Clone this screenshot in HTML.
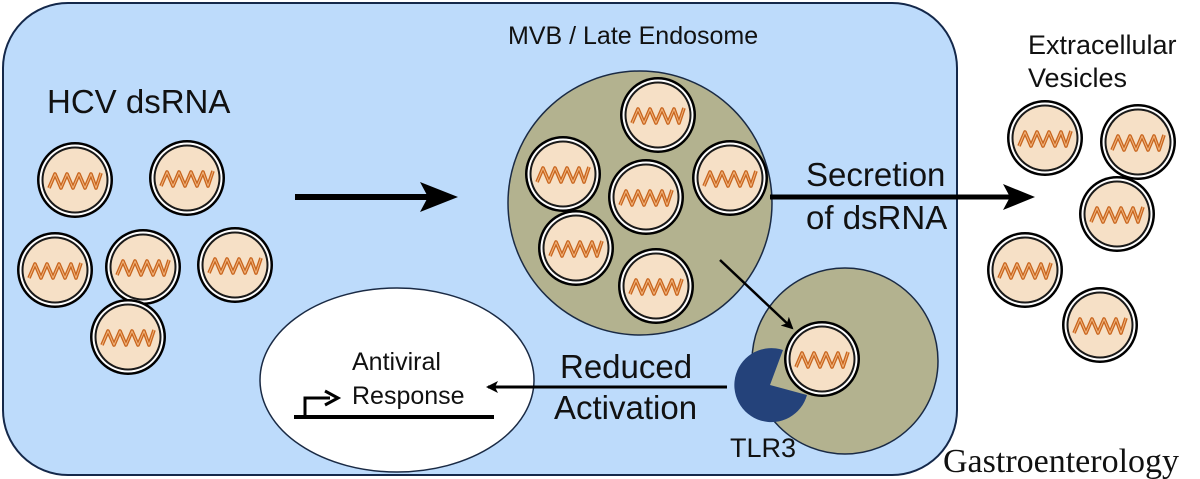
<!DOCTYPE html>
<html><head><meta charset="utf-8"><style>
html,body{margin:0;padding:0;background:#fff;}
svg{display:block;}
text{font-family:"Liberation Sans",Arial,sans-serif;fill:#111;}
</style></head><body>
<svg width="1200" height="479" viewBox="0 0 1200 479" xmlns="http://www.w3.org/2000/svg">
<defs>
<g id="v">
<circle r="38" fill="#000"/>
<circle r="35.5" fill="#fff"/>
<circle r="33.5" fill="#1a1a1a"/>
<circle r="31.5" fill="#f6e0c6"/>
<path d="M-26,8 L-20,-6 L-14,8 L-8,-6 L-2,8 L4,-6 L10,8 L16,-6 L21,8 L26,-7" fill="none" stroke="#c8651e" stroke-width="3.6" stroke-linejoin="round"/>
<path d="M-26,8 L-20,-6 L-14,8 L-8,-6 L-2,8 L4,-6 L10,8 L16,-6 L21,8 L26,-7" fill="none" stroke="#f2b47c" stroke-width="1" stroke-linejoin="round"/>
</g>
<marker id="ah" markerWidth="12" markerHeight="12" refX="10" refY="6" orient="auto" markerUnits="userSpaceOnUse"><path d="M0,0 L12,6 L0,12 L3,6 Z" fill="#000"/></marker>
</defs>
<rect x="3" y="3" width="954" height="472" rx="65" ry="65" fill="#bddbfb" stroke="#14284a" stroke-width="2"/>
<text x="47" y="113" font-size="33">HCV dsRNA</text>
<use href="#v" x="75" y="180"/><use href="#v" x="187" y="178"/>
<use href="#v" x="55" y="270"/><use href="#v" x="143" y="267"/><use href="#v" x="235" y="265"/>
<use href="#v" x="128" y="337"/>
<path d="M295,197 L430,197" stroke="#000" stroke-width="6"/>
<path d="M420,182 L458,197 L420,212 L428,197 Z" fill="#000"/>
<text x="508" y="44" font-size="25">MVB / Late Endosome</text>
<circle cx="640" cy="203" r="132" fill="#b3b28f" stroke="#1a2a44" stroke-width="1.5"/>
<use href="#v" x="658" y="115"/><use href="#v" x="563" y="174"/><use href="#v" x="646" y="197"/>
<use href="#v" x="730" y="178"/><use href="#v" x="576" y="248"/><use href="#v" x="656" y="286"/>
<circle cx="845" cy="361" r="93" fill="#b3b28f" stroke="#1a2a44" stroke-width="1.5"/>
<path d="M770,385 L783,350 A37,37 0 1 0 807,395 Z" fill="#24427a"/>
<use href="#v" x="822" y="359"/>
<path d="M720,260 L792,328" stroke="#000" stroke-width="2.5" marker-end="url(#ah)"/>
<path d="M770,197 L1010,197" stroke="#000" stroke-width="5"/>
<path d="M1003,184 L1035,197 L1003,210 L1010,197 Z" fill="#000"/>
<text x="806" y="186" font-size="33">Secretion</text>
<text x="806" y="229" font-size="33">of dsRNA</text>
<text x="1028" y="54" font-size="27">Extracellular</text>
<text x="1028" y="87" font-size="27">Vesicles</text>
<use href="#v" x="1045" y="138"/><use href="#v" x="1138" y="142"/><use href="#v" x="1117" y="214"/>
<use href="#v" x="1025" y="270"/><use href="#v" x="1100" y="325"/>
<ellipse cx="397" cy="380" rx="137" ry="92" fill="#fff" stroke="#1a2a44" stroke-width="1.5"/>
<text x="352" y="370" font-size="25">Antiviral</text>
<text x="352" y="404" font-size="25">Response</text>
<path d="M294,417 L494,417" stroke="#000" stroke-width="4"/>
<path d="M305,417 L305,398 L330,398" fill="none" stroke="#000" stroke-width="3"/>
<path d="M325,391 L338,398 L325,405" fill="none" stroke="#000" stroke-width="3"/>
<path d="M727,387 L488,387" stroke="#000" stroke-width="3" marker-end="url(#ah)"/>
<text x="560" y="378" font-size="33">Reduced</text>
<text x="554" y="419" font-size="33">Activation</text>
<text x="730" y="457" font-size="27">TLR3</text>
<text x="943" y="472" font-size="34" style="font-family:'Liberation Serif',serif">Gastroenterology</text>
</svg>
</body></html>
